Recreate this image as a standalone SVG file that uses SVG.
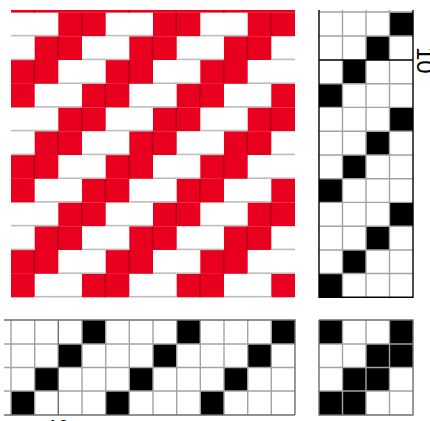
<svg xmlns="http://www.w3.org/2000/svg" width="430" height="421" viewBox="0 0 430 421">
<style>
.r{fill:#e9001f}
.d{fill:#b3001a}
.s{fill:#bdbdbd}
.k{fill:#000}
.g{stroke:#a3a3a3;stroke-width:1.4;fill:none}
.gd{stroke:#6e6e6e;stroke-width:1.4;fill:none}
.b{stroke:#000;stroke-width:1.4;fill:none}
.t{font-family:"Liberation Sans",Arial,sans-serif;fill:#000}
</style>
<defs>
<g id="rowA">
<rect class="r" x="58.3" y="0" width="47.4" height="23.8"/><rect class="r" x="153" y="0" width="47.3" height="23.8"/><rect class="r" x="247.7" y="0" width="47.3" height="23.8"/>
<rect class="d" x="80.8" y="0" width="1.6" height="23.8"/><rect class="d" x="175.5" y="0" width="1.6" height="23.8"/><rect class="d" x="270.1" y="0" width="1.6" height="23.8"/>
</g>
<g id="rowB">
<rect class="r" x="34.7" y="0" width="47.3" height="23.8"/><rect class="r" x="129.3" y="0" width="47.4" height="23.8"/><rect class="r" x="224" y="0" width="47.3" height="23.8"/>
<rect class="d" x="57.1" y="0" width="1.6" height="23.8"/><rect class="d" x="151.8" y="0" width="1.6" height="23.8"/><rect class="d" x="246.5" y="0" width="1.6" height="23.8"/>
</g>
<g id="rowC">
<rect class="r" x="11" y="0" width="47.3" height="23.8"/><rect class="r" x="105.7" y="0" width="47.3" height="23.8"/><rect class="r" x="200.3" y="0" width="47.4" height="23.8"/>
<rect class="d" x="33.5" y="0" width="1.6" height="23.8"/><rect class="d" x="128.1" y="0" width="1.6" height="23.8"/><rect class="d" x="222.8" y="0" width="1.6" height="23.8"/>
</g>
<g id="rowD">
<rect class="r" x="11" y="0" width="23.7" height="23.8"/><rect class="r" x="82" y="0" width="47.3" height="23.8"/><rect class="r" x="176.7" y="0" width="47.3" height="23.8"/><rect class="r" x="271.3" y="0" width="23.7" height="23.8"/>
<rect class="d" x="104.5" y="0" width="1.6" height="23.8"/><rect class="d" x="199.1" y="0" width="1.6" height="23.8"/>
</g>
<g id="shA"><rect class="s" x="11" y="22.4" width="47.3" height="1.6"/><rect class="s" x="105.7" y="22.4" width="47.3" height="1.6"/><rect class="s" x="200.3" y="22.4" width="47.4" height="1.6"/></g>
<g id="shB"><rect class="s" x="11" y="22.4" width="23.7" height="1.6"/><rect class="s" x="82" y="22.4" width="47.3" height="1.6"/><rect class="s" x="176.7" y="22.4" width="47.3" height="1.6"/><rect class="s" x="271.3" y="22.4" width="23.7" height="1.6"/></g>
<g id="shC"><rect class="s" x="58.3" y="22.4" width="47.4" height="1.6"/><rect class="s" x="153" y="22.4" width="47.3" height="1.6"/><rect class="s" x="247.7" y="22.4" width="47.3" height="1.6"/></g>
<g id="shD"><rect class="s" x="34.7" y="22.4" width="47.3" height="1.6"/><rect class="s" x="129.3" y="22.4" width="47.4" height="1.6"/><rect class="s" x="224" y="22.4" width="47.3" height="1.6"/></g>
</defs>

<g id="weave">
<rect class="r" x="11" y="10" width="284" height="2.6"/>
<rect class="d" x="33.8" y="10" width="1.4" height="2.6"/><rect class="d" x="128.4" y="10" width="1.4" height="2.6"/><rect class="d" x="223.1" y="10" width="1.4" height="2.6"/>
<use href="#rowA" y="12.4"/><use href="#rowB" y="36.2"/><use href="#rowC" y="60"/><use href="#rowD" y="83.7"/>
<use href="#rowA" y="107.4"/><use href="#rowB" y="131.2"/><use href="#rowC" y="155"/><use href="#rowD" y="178.7"/>
<use href="#rowA" y="202.4"/><use href="#rowB" y="226.2"/><use href="#rowC" y="250"/><use href="#rowD" y="273.5"/>
<use href="#shA" y="12.4"/><use href="#shB" y="36.2"/><use href="#shC" y="60"/><use href="#shD" y="83.7"/>
<use href="#shA" y="107.4"/><use href="#shB" y="131.2"/><use href="#shC" y="155"/><use href="#shD" y="178.7"/>
<use href="#shA" y="202.4"/><use href="#shB" y="226.2"/><use href="#shC" y="250"/><use href="#shD" y="273.5"/>
</g>

<g id="treadling">
<rect class="k" x="389.5" y="12.4" width="23.5" height="23.8"/><rect class="k" x="366" y="36.2" width="23.5" height="23.8"/><rect class="k" x="342.5" y="60" width="23.5" height="23.7"/><rect class="k" x="319" y="83.7" width="23.5" height="23.7"/>
<rect class="k" x="389.5" y="107.4" width="23.5" height="23.8"/><rect class="k" x="366" y="131.2" width="23.5" height="23.8"/><rect class="k" x="342.5" y="155" width="23.5" height="23.7"/><rect class="k" x="319" y="178.7" width="23.5" height="23.7"/>
<rect class="k" x="389.5" y="202.4" width="23.5" height="23.8"/><rect class="k" x="366" y="226.2" width="23.5" height="23.8"/><rect class="k" x="342.5" y="250" width="23.5" height="23.5"/><rect class="k" x="319" y="273.5" width="23.5" height="23.5"/>
<path class="g" d="M319 12H413M319 36H413M319 83.7H413M319 107.4H413M319 131.2H413M319 155H413M319 178.7H413M319 202.4H413M319 226.2H413M319 250H413M319 273.5H413"/>
<path class="g" d="M342.5 10V297M366 10V297M389.5 10V297"/>
<path class="b" d="M319 10V297.3H413V10M319 60H413"/>
</g>

<g id="threading">
<rect class="k" x="82" y="320" width="23.7" height="24"/><rect class="k" x="176.7" y="320" width="23.6" height="24"/><rect class="k" x="271.3" y="320" width="23.7" height="24"/>
<rect class="k" x="58.3" y="344" width="23.7" height="23.5"/><rect class="k" x="153" y="344" width="23.7" height="23.5"/><rect class="k" x="247.7" y="344" width="23.6" height="23.5"/>
<rect class="k" x="34.7" y="367.5" width="23.6" height="23.5"/><rect class="k" x="129.3" y="367.5" width="23.7" height="23.5"/><rect class="k" x="224" y="367.5" width="23.7" height="23.5"/>
<rect class="k" x="11" y="391" width="23.7" height="24"/><rect class="k" x="105.7" y="391" width="23.6" height="24"/><rect class="k" x="200.3" y="391" width="23.7" height="24"/>
<path class="g" d="M4 344H295M4 367.5H295M4 391H295M11 320V415M34.7 320V415M82 320V415M105.7 320V415M129.3 320V415M153 320V415M176.7 320V415M200.3 320V415M224 320V415M247.7 320V415M271.3 320V415"/>
<path class="gd" d="M58.3 320V415M4 320H295V415M4 415H295"/>
</g>

<g id="tieup">
<rect class="k" x="319" y="320" width="23.5" height="24"/><rect class="k" x="389.5" y="320" width="23.5" height="24"/>
<rect class="k" x="366" y="344" width="47" height="23.5"/>
<rect class="k" x="342.5" y="367.5" width="47" height="23.5"/>
<rect class="k" x="319" y="391" width="47" height="24"/>
<path class="g" d="M319 344H413M319 367.5H413M319 391H413M342.5 320V415M366 320V415M389.5 320V415"/>
<path class="gd" d="M319 320H413V415H319V320"/>
</g>

<text class="t" font-size="24" transform="translate(416.5 47) rotate(90)">10</text>
<text class="t" font-size="20" x="47" y="434">10</text>
</svg>
